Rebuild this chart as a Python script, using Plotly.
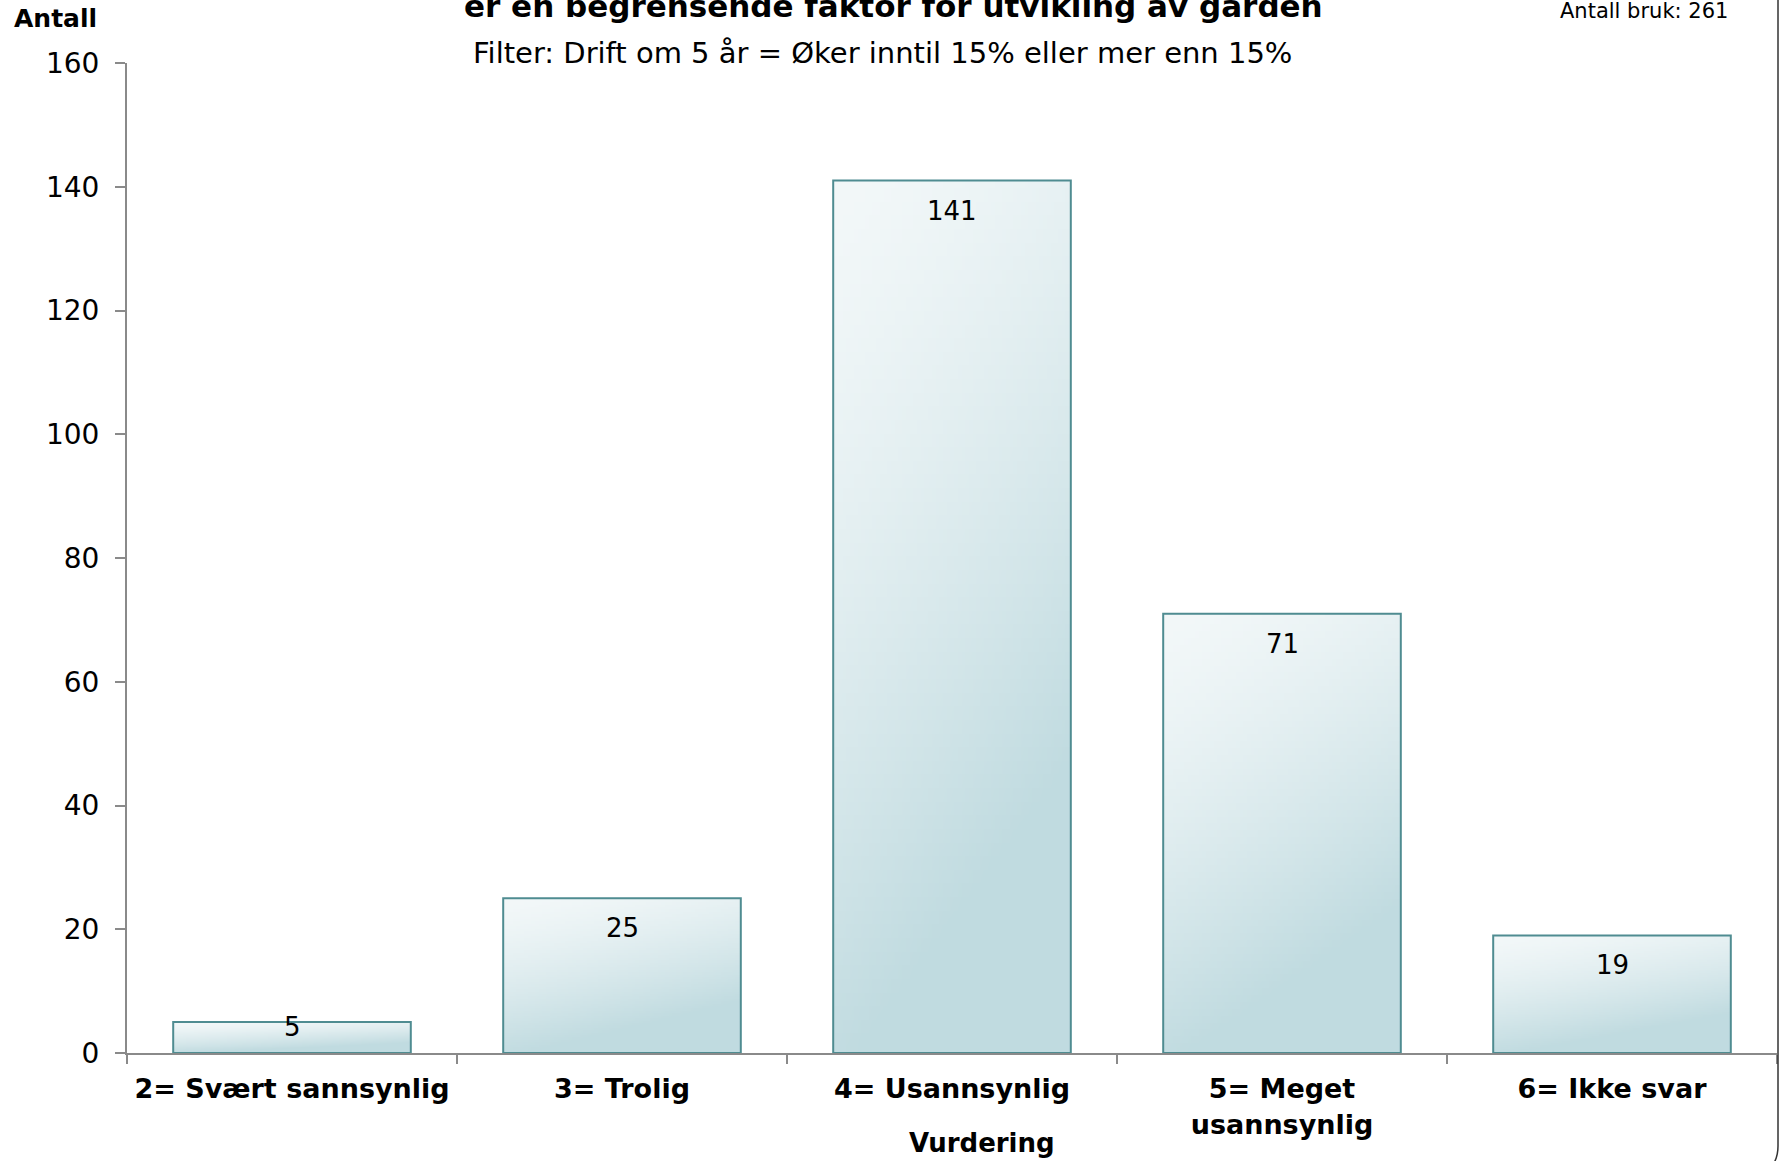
import base64
import struct
import zlib

import numpy as np
import plotly.graph_objects as go

# ---------------- data ----------------
categories = ["2= Svært sannsynlig", "3= Trolig", "4= Usannsynlig",
              "5= Meget<br>usannsynlig", "6= Ikke svar"]
values = [5, 25, 141, 71, 19]
y_ticks = [0, 20, 40, 60, 80, 100, 120, 140, 160]

title_text = "er en begrensende faktor for utvikling av gården"
subtitle_text = "Filter: Drift om 5 år = Øker inntil 15% eller mer enn 15%"
y_title = "Antall"
x_title = "Vurdering"
count_text = "Antall bruk: 261"

# ---------------- layout constants ----------------
W, H = 1783, 1161
ML, MR, MT, MB = 127, 6, 63, 108
PW, PH = W - ML - MR, H - MT - MB
BARGAP = 0.28
HALF = (1 - BARGAP) / 2


def px_x(px):
    return (px - ML) / PW


def px_y(py):
    return (H - MB - py) / PH


# ---------------- gradient image for bar fill ----------------
def gradient_png(w=64, h=64):
    light = np.array([243, 248, 249], dtype=float)
    dark = np.array([192, 219, 224], dtype=float)
    u = np.linspace(0, 1, w)[None, :]
    v = np.linspace(0, 1, h)[:, None]
    t = np.clip(0.35 * u + 0.95 * v, 0, 1) ** 1.4
    t = t[..., None]
    img = (light * (1 - t) + dark * t).astype(np.uint8)
    raw = b"".join(b"\x00" + img[r].tobytes() for r in range(h))

    def chunk(tag, data):
        return (struct.pack(">I", len(data)) + tag + data
                + struct.pack(">I", zlib.crc32(tag + data) & 0xFFFFFFFF))

    png = (b"\x89PNG\r\n\x1a\n"
           + chunk(b"IHDR", struct.pack(">IIBBBBB", w, h, 8, 2, 0, 0, 0))
           + chunk(b"IDAT", zlib.compress(raw))
           + chunk(b"IEND", b""))
    return "data:image/png;base64," + base64.b64encode(png).decode()


grad_uri = gradient_png()

FONT = "DejaVu Sans, Verdana, sans-serif"
AXIS_COLOR = "#8a8a8a"
BAR_LINE = "#4f8c91"

fig = go.Figure()
fig.add_trace(go.Bar(
    x=categories, y=values,
    marker=dict(color="rgba(0,0,0,0)", line=dict(color=BAR_LINE, width=2)),
    hoverinfo="skip", showlegend=False,
))

images = []
annotations = []
for i, (cat, v) in enumerate(zip(categories, values)):
    images.append(dict(
        source=grad_uri, xref="x", yref="y",
        x=i - HALF, y=v, sizex=2 * HALF, sizey=v,
        sizing="stretch", xanchor="left", yanchor="top", layer="below",
    ))
    bar_px = v * PH / 160
    shift = -30 if bar_px > 60 else -5
    annotations.append(dict(
        x=cat, y=v, xref="x", yref="y", text=str(v), showarrow=False,
        yanchor="middle", yshift=shift,
        font=dict(family=FONT, size=26, color="#000000"),
    ))

annotations += [
    dict(text=title_text, xref="paper", yref="paper",
         x=px_x(893), y=px_y(26), xanchor="center", yanchor="bottom",
         showarrow=False,
         font=dict(family=FONT, size=31, color="#000000", weight="bold")),
    dict(text=subtitle_text, xref="paper", yref="paper",
         x=px_x(882), y=px_y(72), xanchor="center", yanchor="bottom",
         showarrow=False,
         font=dict(family=FONT, size=29, color="#000000")),
    dict(text=y_title, xref="paper", yref="paper",
         x=px_x(55), y=px_y(35), xanchor="center", yanchor="bottom",
         showarrow=False,
         font=dict(family=FONT, size=25, color="#000000", weight="bold")),
    dict(text=count_text, xref="paper", yref="paper",
         x=px_x(1644), y=px_y(25), xanchor="center", yanchor="bottom",
         showarrow=False,
         font=dict(family=FONT, size=21, color="#000000")),
    dict(text=x_title, xref="paper", yref="paper",
         x=px_x(982), y=px_y(1160), xanchor="center", yanchor="bottom",
         showarrow=False,
         font=dict(family=FONT, size=26, color="#000000", weight="bold")),
]

# partial chart frame on the right edge
bx = px_x(1778)
frame_path = (f"M {bx},{px_y(-5)} L {bx},{px_y(1146)} "
              f"Q {bx},{px_y(1158)} {px_x(1772)},{px_y(1166)}")

fig.update_layout(
    width=W, height=H,
    margin=dict(l=ML, r=MR, t=MT, b=MB, pad=0),
    paper_bgcolor="white", plot_bgcolor="white",
    bargap=BARGAP,
    showlegend=False,
    images=images,
    annotations=annotations,
    shapes=[dict(type="path", path=frame_path, xref="paper", yref="paper",
                 line=dict(color="#333333", width=1.5))],
    xaxis=dict(
        type="category", categoryorder="array", categoryarray=categories,
        tickson="boundaries", ticks="outside", ticklen=9, tickwidth=1.5,
        tickcolor=AXIS_COLOR, showline=True, linecolor=AXIS_COLOR, linewidth=2,
        showgrid=False, zeroline=False,
        tickfont=dict(family=FONT, size=27, color="#000000", weight="bold"),
        ticklabelstandoff=11,
    ),
    yaxis=dict(
        range=[0, 160], tickvals=y_ticks, ticks="outside", ticklen=10,
        tickwidth=1.5, tickcolor=AXIS_COLOR, showline=True,
        linecolor=AXIS_COLOR, linewidth=2, showgrid=False, zeroline=False,
        tickfont=dict(family=FONT, size=28, color="#000000"),
        ticklabelstandoff=10,
    ),
)

fig.write_html(
    "out.html",
    config={"displayModeBar": False},
    post_script="document.body.style.margin='0';document.body.style.overflow='hidden';",
)
